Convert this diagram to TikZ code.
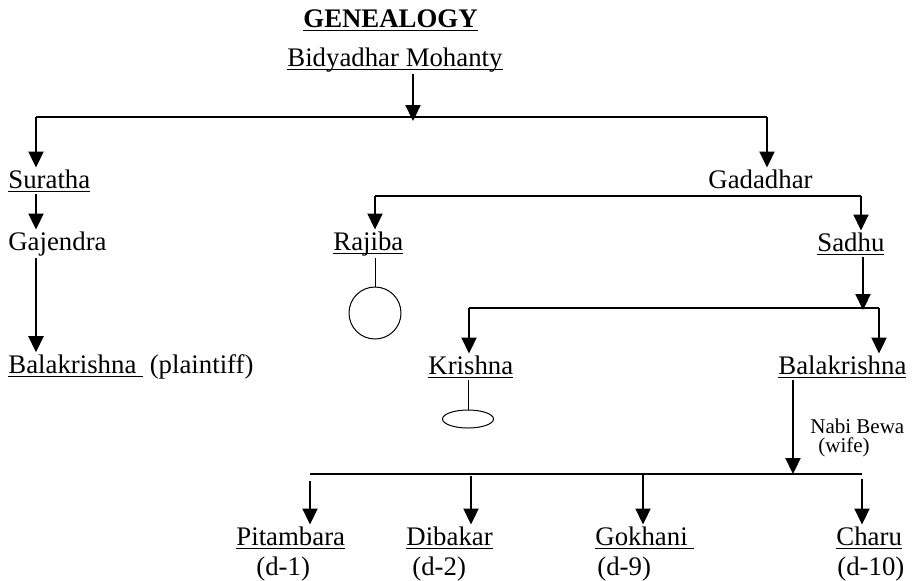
\documentclass[tikz,border=0pt]{standalone}
\usepackage{fontspec}
\setmainfont{Liberation Serif}
\usepackage{tikz}
\usetikzlibrary{arrows.meta, shapes.geometric}
\newsavebox\ulbox
\newcommand{\undl}[1]{\sbox\ulbox{#1}\rlap{\rule[-2pt]{\wd\ulbox}{0.75pt}}\usebox\ulbox}

\begin{document}
\begin{tikzpicture}[x=0.5pt, y=-0.5pt, font=\fontsize{13.4}{15}\selectfont,
  person/.style={inner xsep=0pt, inner ysep=0.75pt, anchor=base west},
  note/.style={person, font=\fontsize{10.5}{12}\selectfont},
  bar/.style={line width=1.1pt},
  arr/.style={line width=1.1pt, -{Triangle[length=8pt, width=7.5pt]}},
  link/.style={line width=0.5pt}]
  \useasboundingbox (0,0) rectangle (916,580);
  % Names
  \node[person] (title) at (303,27) {\undl{\textbf{GENEALOGY}}};
  \node[person] (bid) at (287,66) {\undl{Bidyadhar Mohanty}};
  \node[person] (sur) at (8,188) {\undl{Suratha}};
  \node[person] (gad) at (708,188) {Gadadhar};
  \node[person] (gaj) at (8,250) {Gajendra};
  \node[person] (raj) at (333,250) {\undl{Rajiba}};
  \node[person] (sad) at (817,251) {\undl{Sadhu}};
  \node[person] (balp) at (8,373) {\undl{Balakrishna\ }\ (plaintiff)};
  \node[person] (kri) at (428,374) {\undl{Krishna}};
  \node[person] (balk) at (778,374) {\undl{Balakrishna}};
  \node[note] (nabi) at (810,433) {Nabi Bewa};
  \node[note] (wife) at (818,452) {(wife)};
  \node[person] (pit) at (236,545) {\undl{Pitambara}};
  \node[person] (dib) at (406,545) {\undl{Dibakar}};
  \node[person] (gok) at (595,545) {\undl{Gokhani\ }};
  \node[person] (cha) at (836,545) {\undl{Charu}};
  \node[person] (d1) at (256,575) {(d-1)};
  \node[person] (d2) at (412,575) {(d-2)};
  \node[person] (d9) at (597,575) {(d-9)};
  \node[person] (d10) at (837,575) {(d-10)};
  % Issueless marks
  \node[draw, link, circle, minimum size=26pt, inner sep=0pt] (rajc) at (375,313) {};
  \node[draw, link, ellipse, minimum width=25.5pt, minimum height=9pt, inner sep=0pt] (krie) at (468,419) {};
  % Bidyadhar's sons
  \coordinate (j0) at (413,121);
  \coordinate (b0l) at (36,117);
  \coordinate (b0r) at (767,117);
  \draw[arr] (bid.south -| j0) -- (j0);
  \draw[bar] (b0l) -- (b0r);
  \draw[arr] (b0l) -- (sur.north -| b0l);
  \draw[arr] (b0r) -- (gad.north -| b0r);
  % Suratha's line
  \draw[arr] (sur.south -| b0l) -- (gaj.north -| b0l);
  \draw[arr] (gaj.south -| b0l) -- (balp.north -| b0l);
  % Gadadhar's sons
  \coordinate (b1l) at (375,196);
  \coordinate (b1r) at (861,196);
  \draw[bar] (b1l) -- (b1r);
  \draw[arr] (b1l) -- (raj.north -| b1l);
  \draw[arr] (b1r) -- (sad.north -| b1r);
  \draw[link] (raj.south -| rajc.north) -- (rajc.north);
  % Sadhu's sons
  \coordinate (j2) at (863,310);
  \coordinate (b2l) at (469,308);
  \coordinate (b2r) at (879,308);
  \draw[arr] (sad.south -| j2) -- (j2);
  \draw[bar] (b2l) -- (b2r);
  \draw[arr] (b2l) -- (kri.north -| b2l);
  \draw[arr] (b2r) -- (balk.north -| b2r);
  \draw[link] (kri.south -| krie.north) -- (krie.north);
  % Balakrishna's children
  \coordinate (j3) at (793,474);
  \coordinate (b3l) at (310,474);
  \coordinate (b3r) at (862,474);
  \draw[arr] (balk.south -| j3) -- (j3);
  \draw[bar] (b3l) -- (b3r);
  \foreach \n/\x/\g in {pit/310/7, dib/471/2, gok/643/0, cha/862/5} {
    \coordinate (t) at (\x,474+\g);
    \draw[arr] (t) -- (\n.north -| t);
  }
\end{tikzpicture}
\end{document}
